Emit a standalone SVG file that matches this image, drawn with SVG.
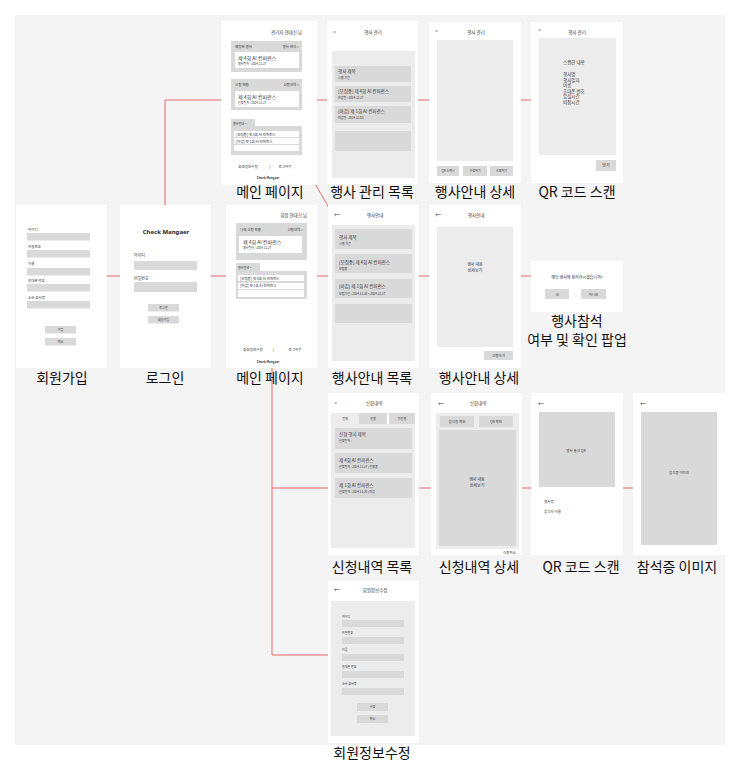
<svg xmlns="http://www.w3.org/2000/svg" width="732" height="766" viewBox="0 0 732 766">
<style>
.scr{fill:#ffffff}
.pn{fill:#ececec}
.bx{fill:#d9d9d9}
.wh{fill:#ffffff}
text{font-family:"Noto Sans CJK KR","Noto Sans",sans-serif;fill:#333}
.s3{font-size:3px}
.s35{font-size:3.5px}
.s4{font-size:4px}
.s45{font-size:4.5px}
.s5{font-size:5px}
.ar{font-size:6px;fill:#444}
.c{text-anchor:middle}
.e{text-anchor:end}
.b{font-weight:bold}
.lb{font-size:14px;fill:#111;text-anchor:middle}
.cn{stroke:#e8696b;stroke-width:1;fill:none}
</style>
<rect x="15" y="15" width="710" height="730" fill="#f4f4f4"/>

<g id="connectors">
<path class="cn" d="M107 276H120 M211 276H226 M317 276H328 M419 276H429 M521 276H531"/>
<path class="cn" d="M165 205V100H221 M317 100H327 M418 100H429 M521 100H531"/>
<path class="cn" d="M313 180L329 208"/>
<path class="cn" d="M272 368V655H328 M272 488H328 M419 488H431 M522 488H531 M623 488H633"/>
</g>

<g id="admin-main">
<rect class="scr" x="221" y="21" width="96" height="164"/>
<text class="s45 e" x="302" y="34">관리자 현대신 님</text>
<rect class="bx" x="231" y="41" width="71" height="31"/>
<text class="s35" x="235" y="47.5">예정된 행사</text>
<text class="s35 e" x="299" y="47.5">행사 관리 &gt;</text>
<rect class="wh" x="235" y="52" width="64" height="16"/>
<text class="s5" x="238" y="60">제 4회 AI 컨퍼런스</text>
<text class="s3" x="238" y="65">행사일자 : 2024.12.27</text>
<rect class="bx" x="231" y="79" width="71" height="31"/>
<text class="s35" x="235" y="85.5">신청 현황</text>
<text class="s35 e" x="299" y="85.5">신청내역 &gt;</text>
<rect class="wh" x="235" y="91" width="64" height="16"/>
<text class="s5" x="238" y="99">제 4회 AI 컨퍼런스</text>
<text class="s3" x="238" y="104">신청일자 : 2024.12.27</text>
<rect class="bx" x="231" y="119" width="24" height="8"/>
<text class="s3" x="233" y="124.5">행사안내 &gt;</text>
<rect class="bx" x="231" y="126" width="71" height="29"/>
<rect class="wh" x="234" y="131" width="65" height="6"/>
<rect class="wh" x="234" y="138" width="65" height="6"/>
<rect class="wh" x="234" y="145" width="65" height="6"/>
<text class="s35" x="236" y="135.5">[모집중] 제 4회 AI 컨퍼런스</text>
<text class="s35" x="236" y="142.5">[마감] 제 1회 AI 컨퍼런스</text>
<text class="s35 c" x="248" y="168">회원정보수정</text>
<text class="s4 c" x="270" y="168">|</text>
<text class="s35 c" x="285" y="168">로그아웃</text>
<text class="s3 c b" x="268" y="178.5">Check Mangaer</text>
</g>

<g id="admin-event-list">
<rect class="scr" x="327" y="21" width="91" height="163"/>
<text class="s5" x="333" y="34">&lt;</text>
<text class="s45 c" x="373" y="34">행사 관리</text>
<rect class="pn" x="332" y="51" width="83" height="127"/>
<rect class="bx" x="335" y="66" width="76" height="16"/>
<rect class="bx" x="335" y="86" width="76" height="16"/>
<rect class="bx" x="335" y="106" width="76" height="17"/>
<rect class="bx" x="335" y="131" width="76" height="20"/>
<text class="s45" x="338" y="73">행사 제목</text>
<text class="s3" x="338" y="78.5">시행 기간</text>
<text class="s45" x="338" y="93">[모집중] 제 4회 AI 컨퍼런스</text>
<text class="s3" x="338" y="98.5">마감일 : 2024.12.27</text>
<text class="s45" x="338" y="113">[마감] 제 1회 AI 컨퍼런스</text>
<text class="s3" x="338" y="119">마감일 : 2024.12.03</text>
</g>

<g id="admin-event-detail">
<rect class="scr" x="429" y="22" width="92" height="161"/>
<text class="s5" x="435" y="33">&lt;</text>
<text class="s45 c" x="476" y="34">행사 관리</text>
<rect class="pn" x="437" y="40" width="76" height="121"/>
<rect class="bx" x="437" y="166" width="22" height="10"/>
<rect class="bx" x="463" y="166" width="24" height="10"/>
<rect class="bx" x="490" y="166" width="23" height="10"/>
<text class="s3 c" x="448" y="172">QR 스캐너</text>
<text class="s3 c" x="475" y="172">수정하기</text>
<text class="s3 c" x="501.5" y="172">삭제하기</text>
</g>

<g id="admin-qr-scan">
<rect class="scr" x="531" y="22" width="92" height="161"/>
<text class="s5" x="538" y="32">&lt;</text>
<text class="s45 c" x="577" y="34">행사 관리</text>
<rect class="pn" x="539" y="38" width="77" height="117"/>
<text class="s45" x="563" y="64">스캔한 내용</text>
<text class="s45" x="563" y="76">행사명</text>
<text class="s45" x="563" y="81.5">행사일자</text>
<text class="s45" x="563" y="87">이름</text>
<text class="s45" x="563" y="92.5">휴대폰 번호</text>
<text class="s45" x="563" y="98">입실시간</text>
<text class="s45" x="563" y="103.5">퇴장시간</text>
<rect class="bx" x="596" y="160" width="20" height="11"/>
<text class="s4 c" x="606" y="167">닫기</text>
</g>

<g id="signup">
<rect class="scr" x="16" y="205" width="91" height="163"/>
<text class="s35" x="28" y="230.5">아이디</text>
<rect class="bx" x="27" y="233" width="63" height="7.5"/>
<text class="s35" x="28" y="248">비밀번호</text>
<rect class="bx" x="27" y="250" width="63" height="7.5"/>
<text class="s35" x="28" y="265">이름</text>
<rect class="bx" x="27" y="268" width="63" height="7.5"/>
<text class="s35" x="28" y="282">휴대폰 번호</text>
<rect class="bx" x="27" y="284" width="63" height="7.5"/>
<text class="s35" x="28" y="298.5">소속 회사명</text>
<rect class="bx" x="27" y="301" width="63" height="7.5"/>
<rect class="bx" x="45" y="326" width="31" height="7.5"/>
<rect class="bx" x="45" y="338" width="31" height="7.5"/>
<text class="s3 c" x="60.5" y="331">가입</text>
<text class="s3 c" x="60.5" y="343">취소</text>
</g>

<g id="login">
<rect class="scr" x="120" y="205" width="91" height="163"/>
<text class="c b" x="166" y="234" style="font-family:'Noto Sans',sans-serif;font-size:6px;fill:#222">Check Mangaer</text>
<text class="s4" x="134" y="256.5">아이디</text>
<rect class="bx" x="134" y="261" width="63" height="9"/>
<text class="s4" x="134" y="279.5">비밀번호</text>
<rect class="bx" x="134" y="282" width="63" height="10"/>
<rect class="bx" x="148" y="304" width="31" height="7.5"/>
<rect class="bx" x="148" y="316" width="31" height="7.5"/>
<text class="s3 c" x="163.5" y="309">로그인</text>
<text class="s3 c" x="163.5" y="321">회원가입</text>
</g>

<g id="user-main">
<rect class="scr" x="226" y="205" width="91" height="163"/>
<text class="s45 e" x="307" y="217">회원 현대신 님</text>
<rect class="bx" x="236" y="223" width="71" height="37"/>
<text class="s35" x="240" y="230.5">나의 신청 현황</text>
<text class="s35 e" x="303" y="230.5">신청내역 &gt;</text>
<rect class="wh" x="239" y="236" width="63" height="17"/>
<text class="s5" x="243" y="244">제 4회 AI 컨퍼런스</text>
<text class="s3" x="243" y="249">행사일자 : 2024.12.27</text>
<rect class="bx" x="236" y="263" width="24" height="8"/>
<text class="s3" x="238" y="268.5">행사안내 &gt;</text>
<rect class="bx" x="236" y="271" width="71" height="28"/>
<rect class="wh" x="238" y="275" width="66" height="6"/>
<rect class="wh" x="238" y="283" width="66" height="6"/>
<rect class="wh" x="238" y="290" width="66" height="7"/>
<text class="s35" x="240" y="279.5">[모집중] 제 4회 AI 컨퍼런스</text>
<text class="s35" x="240" y="287">[마감] 제 1회 AI 컨퍼런스</text>
<text class="s35 c" x="253" y="351">회원정보수정</text>
<text class="s4 c" x="273" y="351">|</text>
<text class="s35 c" x="295" y="351">로그아웃</text>
<text class="s3 c b" x="268" y="363">Check Mangaer</text>
</g>

<g id="user-event-list">
<rect class="scr" x="328" y="205" width="91" height="163"/>
<text class="ar" x="334" y="217">←</text>
<text class="s45 c" x="375" y="217">행사안내</text>
<rect class="pn" x="332" y="225" width="83" height="136"/>
<rect class="bx" x="335" y="229" width="77" height="20"/>
<rect class="bx" x="335" y="254" width="77" height="19"/>
<rect class="bx" x="335" y="279" width="77" height="19"/>
<rect class="bx" x="335" y="304" width="77" height="19"/>
<text class="s45" x="339" y="238.5">행사 제목</text>
<text class="s3" x="339" y="244.5">시행 기간</text>
<text class="s45" x="339" y="263.5">[모집중] 제 4회 AI 컨퍼런스</text>
<text class="s3" x="339" y="270">모집중</text>
<text class="s45" x="339" y="288">[마감] 제 1회 AI 컨퍼런스</text>
<text class="s3" x="339" y="294.5">모집기간 : 2024.12.20 ~ 2024.12.27</text>
</g>

<g id="user-event-detail">
<rect class="scr" x="429" y="205" width="92" height="163"/>
<text class="ar" x="435" y="217">←</text>
<text class="s45 c" x="476" y="217">행사안내</text>
<rect class="pn" x="437" y="227" width="76" height="120"/>
<text class="s4 c" x="475" y="266">행사 내용</text>
<text class="s4 c" x="475" y="272">상세보기</text>
<rect class="bx" x="484" y="351" width="29" height="9"/>
<text class="s35 c" x="498.5" y="357">신청하기</text>
</g>

<g id="attend-popup">
<rect class="scr" x="531" y="261" width="92" height="51"/>
<text class="s4 c" x="577" y="278.5">해당 행사에 참석하시겠습니까?</text>
<rect class="bx" x="545" y="289" width="24" height="10"/>
<rect class="bx" x="581" y="289" width="25" height="10"/>
<text class="s35 c" x="557" y="295.5">네</text>
<text class="s35 c" x="593.5" y="295.5">아니오</text>
</g>

<g id="apply-list">
<rect class="scr" x="328" y="393" width="91" height="162"/>
<text class="s5" x="334" y="405">&lt;</text>
<text class="s45 c" x="374" y="405">신청내역</text>
<rect class="pn" x="331" y="413" width="28" height="11"/>
<rect class="bx" x="359" y="413" width="28" height="11"/>
<rect class="bx" x="389" y="413" width="26" height="11"/>
<text class="s3 c" x="345" y="420">전체</text>
<text class="s3 c" x="373" y="420">진행</text>
<text class="s3 c" x="402" y="420">미진행</text>
<rect class="pn" x="331" y="424" width="84" height="124"/>
<rect class="bx" x="335" y="428" width="77" height="21"/>
<rect class="bx" x="335" y="453" width="77" height="20"/>
<rect class="bx" x="335" y="478" width="77" height="20"/>
<text class="s45" x="339" y="436">신청 행사 제목</text>
<text class="s3" x="339" y="442">신청일자 :</text>
<text class="s45" x="339" y="461.5">제 4회 AI 컨퍼런스</text>
<text class="s3" x="339" y="468">신청일자 : 2024.12.27 | 진행중</text>
<text class="s45" x="339" y="486.5">제 1회 AI 컨퍼런스</text>
<text class="s3" x="339" y="493">신청일자 : 2024.12.20 | 마감</text>
</g>

<g id="apply-detail">
<rect class="scr" x="431" y="393" width="91" height="162"/>
<text class="ar" x="438" y="406">←</text>
<text class="s45 c" x="478" y="405">신청내역</text>
<rect class="pn" x="436" y="413" width="83" height="136"/>
<rect class="bx" x="440" y="416" width="34" height="11"/>
<rect class="bx" x="479" y="416" width="34" height="11"/>
<text class="s35 c" x="457" y="423">참석증 확인</text>
<text class="s35 c" x="496" y="423">QR 확인</text>
<rect class="bx" x="439" y="430" width="77" height="116"/>
<text class="s4 c" x="477" y="481">행사 내용</text>
<text class="s4 c" x="477" y="487">상세보기</text>
<text class="s35 e" x="516" y="553.5">신청취소</text>
</g>

<g id="user-qr">
<rect class="scr" x="531" y="393" width="92" height="162"/>
<text class="ar" x="538" y="406">←</text>
<rect class="bx" x="539" y="412" width="76" height="75"/>
<text class="s35 c" x="576" y="451.5">행사 출석 QR</text>
<text class="s35" x="544" y="502.5">행사명</text>
<text class="s35" x="544" y="513">참석자 이름</text>
</g>

<g id="certificate">
<rect class="scr" x="633" y="393" width="92" height="162"/>
<text class="ar" x="640" y="406">←</text>
<rect class="bx" x="641" y="412" width="76" height="133"/>
<text class="s35 c" x="679" y="473.5">참석증 이미지</text>
</g>

<g id="edit-profile">
<rect class="scr" x="328" y="581" width="91" height="162"/>
<text class="ar" x="334" y="592">←</text>
<text class="s45 c" x="375" y="592">회원정보수정</text>
<rect class="pn" x="331" y="601" width="84" height="135"/>
<text class="s3" x="342" y="617.5">아이디</text>
<rect class="bx" x="342" y="620" width="62" height="7"/>
<text class="s3" x="342" y="634">비밀번호</text>
<rect class="bx" x="342" y="637" width="62" height="7"/>
<text class="s3" x="342" y="651">이름</text>
<rect class="bx" x="342" y="654" width="62" height="7"/>
<text class="s3" x="342" y="668">휴대폰 번호</text>
<rect class="bx" x="342" y="671" width="62" height="7"/>
<text class="s3" x="342" y="685">소속 회사명</text>
<rect class="bx" x="342" y="688" width="62" height="7"/>
<rect class="bx" x="357" y="703" width="31" height="8"/>
<rect class="bx" x="357" y="715" width="31" height="8"/>
<text class="s3 c" x="372.5" y="708">수정</text>
<text class="s3 c" x="372.5" y="720">취소</text>
</g>

<g id="labels">
<text class="lb" x="270" y="197">메인 페이지</text>
<text class="lb" x="372" y="197">행사 관리 목록</text>
<text class="lb" x="475" y="197">행사안내 상세</text>
<text class="lb" x="577" y="197">QR 코드 스캔</text>
<text class="lb" x="62" y="383">회원가입</text>
<text class="lb" x="165" y="383">로그인</text>
<text class="lb" x="270" y="383">메인 페이지</text>
<text class="lb" x="372" y="383">행사안내 목록</text>
<text class="lb" x="479" y="383">행사안내 상세</text>
<text class="lb" x="577" y="326">행사참석</text>
<text class="lb" x="577" y="344.5">여부 및 확인 팝업</text>
<text class="lb" x="372" y="572">신청내역 목록</text>
<text class="lb" x="479" y="572">신청내역 상세</text>
<text class="lb" x="581" y="572">QR 코드 스캔</text>
<text class="lb" x="677" y="572">참석증 이미지</text>
<text class="lb" x="372" y="758">회원정보수정</text>
</g>
</svg>
